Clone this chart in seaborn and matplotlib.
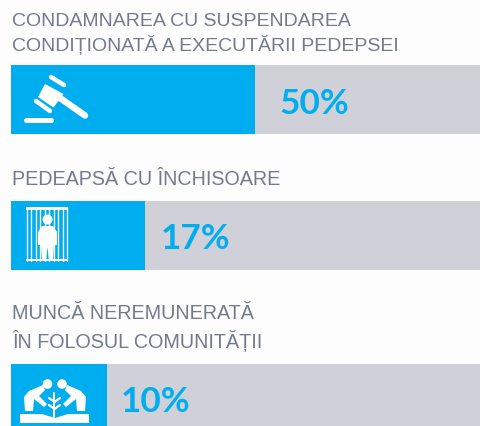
import matplotlib
matplotlib.use("Agg")
import matplotlib.pyplot as plt
from matplotlib.patches import Circle, Polygon, Rectangle
import pandas as pd
import seaborn as sns

sns.set_theme(style="white")
plt.rcParams['font.family'] = ['Liberation Sans', 'DejaVu Sans']

categories = ["Suspendare", "Închisoare", "Muncă"]
titles = ["CONDAMNAREA CU SUSPENDAREA\nCONDIȚIONATĂ A EXECUTĂRII PEDEPSEI",
          "PEDEAPSĂ CU ÎNCHISOARE",
          "MUNCĂ NEREMUNERATĂ\nÎN FOLOSUL COMUNITĂȚII"]
labels = ["50%", "17%", "10%"]
# drawn length of each blue bar, in % of the grey track, as measured in the picture
fill_lengths = [51.9, 28.5, 20.4]
track_lengths = [100, 100, 100]

BLUE, GREY, TXT = "#00aeef", "#cfd0d8", "#737a8e"
W, H = 481, 427
fig = plt.figure(figsize=(W / 100, H / 100), dpi=100, facecolor="#fdfdfe")

tops = [65, 201, 364]
bar_h = 69
title_y = [12.5, 180, 304.5]
title_size = [14.0, 14.25, 14.2]

for i, cat in enumerate(categories):
    ax = fig.add_axes([11 / W, 1 - (tops[i] + 1 + bar_h) / H, 471 / W, bar_h / H])
    df = pd.DataFrame({"c": [cat], "track": [track_lengths[i]], "fill": [fill_lengths[i]]})
    sns.barplot(data=df, x="track", y="c", color=GREY, saturation=1, width=1, ax=ax, linewidth=0)
    sns.barplot(data=df, x="fill", y="c", color=BLUE, saturation=1, width=1, ax=ax, linewidth=0)
    ax.set_xlim(0, 100)
    ax.set_ylim(0.5, -0.5)
    ax.axis("off")

# overlay in pixel coordinates for text and pictograms
ov = fig.add_axes([0, 0, 1, 1], facecolor="none")
ov.set_xlim(0, W)
ov.set_ylim(H, 0)
ov.axis("off")

for i in range(3):
    ov.text(12.5, title_y[i], titles[i], fontsize=title_size[i], color=TXT,
            va="top" if i != 1 else "center", ha="left", linespacing=1.36)

val_x = [279.5, 160.5, 121]
val_dy = [39, 38.5, 38]
for i in range(3):
    ov.text(val_x[i], tops[i] + val_dy[i], labels[i], fontsize=25.3, color=BLUE, va="center", ha="left",
            family=["Lato", "DejaVu Sans"], fontweight="bold")

def seg(x0, y0, x1, y1, w):
    ov.plot([x0, x1], [y0, y1], color="white", lw=w * 0.72, solid_capstyle="round")

# gavel
ov.add_patch(Polygon([(45, 85), (63.5, 95), (53.5, 108.5), (38, 98)], color="white", lw=0))
seg(51, 78, 64, 86, 4.5)
seg(36, 102, 50, 112, 4.5)
seg(60, 99, 85, 116.5, 6.5)
seg(26, 120.5, 51, 120.5, 5)

# prisoner
ov.add_patch(Rectangle((26, 208), 42, 3, color="white", lw=0))
ov.add_patch(Rectangle((26, 259.5), 42, 2.5, color="white", lw=0))
for k in range(10):
    x = 27 + k * 4.5
    ov.plot([x, x], [208, 262], color="white", lw=0.95)
ov.add_patch(Circle((47.5, 220.5), 5, color="white", lw=0))
ov.add_patch(Polygon([(42, 227), (53, 227), (57, 233), (57, 246), (54, 246), (53, 262), (49, 262),
                      (47.5, 248), (46, 262), (42, 262), (41, 246), (38, 246), (38, 233)],
                     color="white", lw=0))

# community work
ov.add_patch(Circle((47.5, 385), 4.8, color="white", lw=0))
ov.add_patch(Circle((62, 385), 4.8, color="white", lw=0))
ov.add_patch(Polygon([(24, 398), (29, 392), (43, 386), (45, 391), (39, 397), (47, 405), (44, 408),
                     (34, 400), (33, 412), (25, 412)], color="white", lw=0))
ov.add_patch(Polygon([(86, 398), (81, 392), (67, 386), (65, 391), (71, 397), (63, 405), (66, 408),
                     (76, 400), (77, 412), (85, 412)], color="white", lw=0))
ov.add_patch(Polygon([(20, 415), (42, 415), (55, 419), (68, 415), (89, 415), (89, 424), (20, 424)],
                     color="white", lw=0))
seg(54.5, 394, 54.5, 418, 2)
for y in (399, 406):
    seg(54.5, y + 4, 49, y, 2.2)
    seg(54.5, y + 4, 60, y, 2.2)

fig.savefig("out.png", dpi=100, facecolor=fig.get_facecolor())
